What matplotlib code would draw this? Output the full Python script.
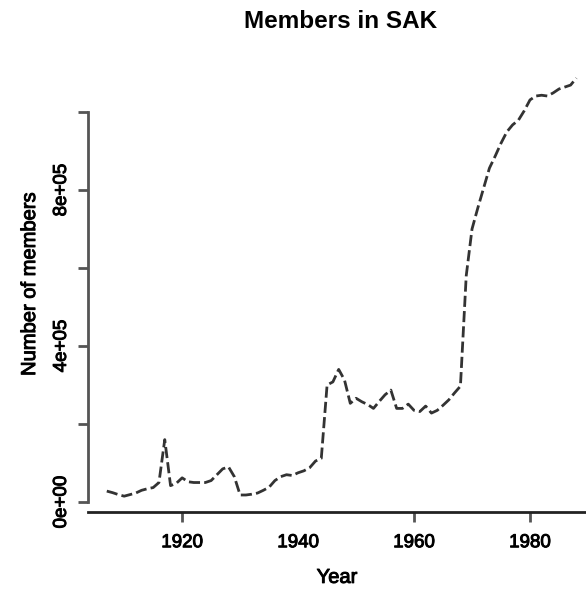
import numpy as np
import matplotlib
matplotlib.use("Agg")
import matplotlib.pyplot as plt
import matplotlib.patheffects as pe

plt.rcParams['font.family'] = ['Liberation Sans', 'DejaVu Sans']

# SAK membership per year
years = list(range(1907, 1989))
members = [
    28000, 24000, 19000, 15000, 19000, 23000, 30000, 34000, 37000, 50000,   # 1907-1916
    160000, 42000, 48000, 62000, 52000, 50000, 50000, 50000, 55000, 70000,  # 1917-1926
    85000, 90000, 65000, 18000, 18000, 20000, 23000, 30000, 38000, 55000,   # 1927-1936
    65000, 70000, 68000, 75000, 80000, 88000, 105000, 112000, 300000, 308000,  # 1937-1946
    340000, 313000, 253000, 266000, 257000, 250000, 240000, 258000, 275000, 287000,  # 1947-1956
    240000, 240000, 251000, 235000, 232000, 246000, 228000, 235000, 248000, 262000,  # 1957-1966
    280000, 297000, 580000, 700000, 754000, 805000, 856000, 887000, 920000, 949000,  # 1967-1976
    967000, 979000, 1003000, 1031000, 1041000, 1043000, 1041000, 1049000, 1059000, 1064000,  # 1977-1986
    1069000, 1087000,  # 1987-1988
]

x_ticks = [1920, 1940, 1960, 1980]
y_ticks = [0, 200000, 400000, 600000, 800000, 1000000]
y_labels = ['0e+00', '', '4e+05', '', '8e+05', '']

heavy = [pe.withStroke(linewidth=0.7, foreground='black')]

fig = plt.figure(figsize=(5.86, 5.90), dpi=100)
ax = fig.add_axes([88 / 586, 1 - 512 / 590, (586 - 88) / 586, (512 - 56) / 590])

ax.plot(years, members, color='#333333', lw=2.0, dashes=(4, 1.5))

ax.set_xlim(1903.76, 1989.66)
ax.set_ylim(-25600, 1143600)

for s in ['top', 'right']:
    ax.spines[s].set_visible(False)
ax.spines['left'].set_bounds(0, 1000000)
ax.spines['left'].set_color('#555555')
ax.spines['left'].set_linewidth(2)
ax.spines['bottom'].set_color('#222222')
ax.spines['bottom'].set_linewidth(2)

ax.set_xticks(x_ticks)
ax.set_xticklabels([str(y) for y in x_ticks], fontsize=13.5)
ax.set_yticks(y_ticks)
ax.set_yticklabels(y_labels, fontsize=13.5, rotation=90, va='center')
ax.tick_params(axis='x', length=7, width=2, color='#555555', pad=9)
ax.tick_params(axis='y', length=7, width=2, color='#555555', pad=6)
# the reference has no tick mark at 1940
ax.xaxis.get_major_ticks()[1].tick1line.set_visible(False)
for lab in ax.get_xticklabels() + ax.get_yticklabels():
    lab.set_path_effects(heavy)

ax.set_xlabel('Year', fontsize=14.5, labelpad=12, path_effects=heavy)
ax.set_ylabel('Number of members', fontsize=14.5, labelpad=10, path_effects=heavy)
fig.text(341 / 586, 1 - 22 / 590, 'Members in SAK', fontsize=17.5, fontweight='bold',
         ha='center', va='center')

fig.savefig('out.png', dpi=100)
